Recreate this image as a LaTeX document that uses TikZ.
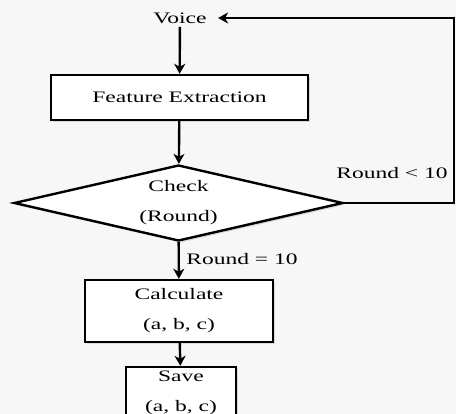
\documentclass[tikz,border=0pt]{standalone}
\usepackage{fontspec}
\setmainfont[FakeStretch=1.47]{Liberation Serif}
\usetikzlibrary{arrows.meta,shapes.geometric,shadows}

\begin{document}
\begin{tikzpicture}[x=1pt, y=-1pt,
  txt/.style={font=\fontsize{16}{30}\selectfont, align=center},
  box/.style={txt, draw, line width=2.4pt, fill=white, inner sep=0pt,
    drop shadow={shadow xshift=2pt, shadow yshift=-2pt, opacity=.25}},
  flow/.style={line width=2.4pt, -{Stealth[length=10pt, width=11pt, inset=3pt]}}]
\fill[black!3] (0,0) rectangle (456,414);
\useasboundingbox (0,0) rectangle (456,414);
% steps
\node[txt] (voice) at (180,18) {Voice};
\node[box, minimum width=257, minimum height=45] (feat) at (179.5,97.5) {Feature Extraction};
\node[box, diamond, aspect=4.33, minimum width=329, minimum height=76] (chk) at (178.5,203) {Check\\(Round)};
\node[box, minimum width=188, minimum height=62] (calc) at (179,311) {Calculate\\(a, b, c)};
\node[box, minimum width=110, minimum height=52] (save) at (181,393) {Save\\(a, b, c)};
% conditions
\node[txt] (lt) at (392,173) {Round < 10};
\node[txt] (eq) at (242,259) {Round = 10};
% arrows
\draw[flow] (voice) -- (feat);
\draw[flow] (feat) -- (chk);
\draw[flow] (chk) -- (calc);
\draw[flow] (calc) -- (save);
\draw[flow] (chk.east) -- ++(110,0) |- ([xshift=8pt]voice.east);
\end{tikzpicture}
\end{document}
